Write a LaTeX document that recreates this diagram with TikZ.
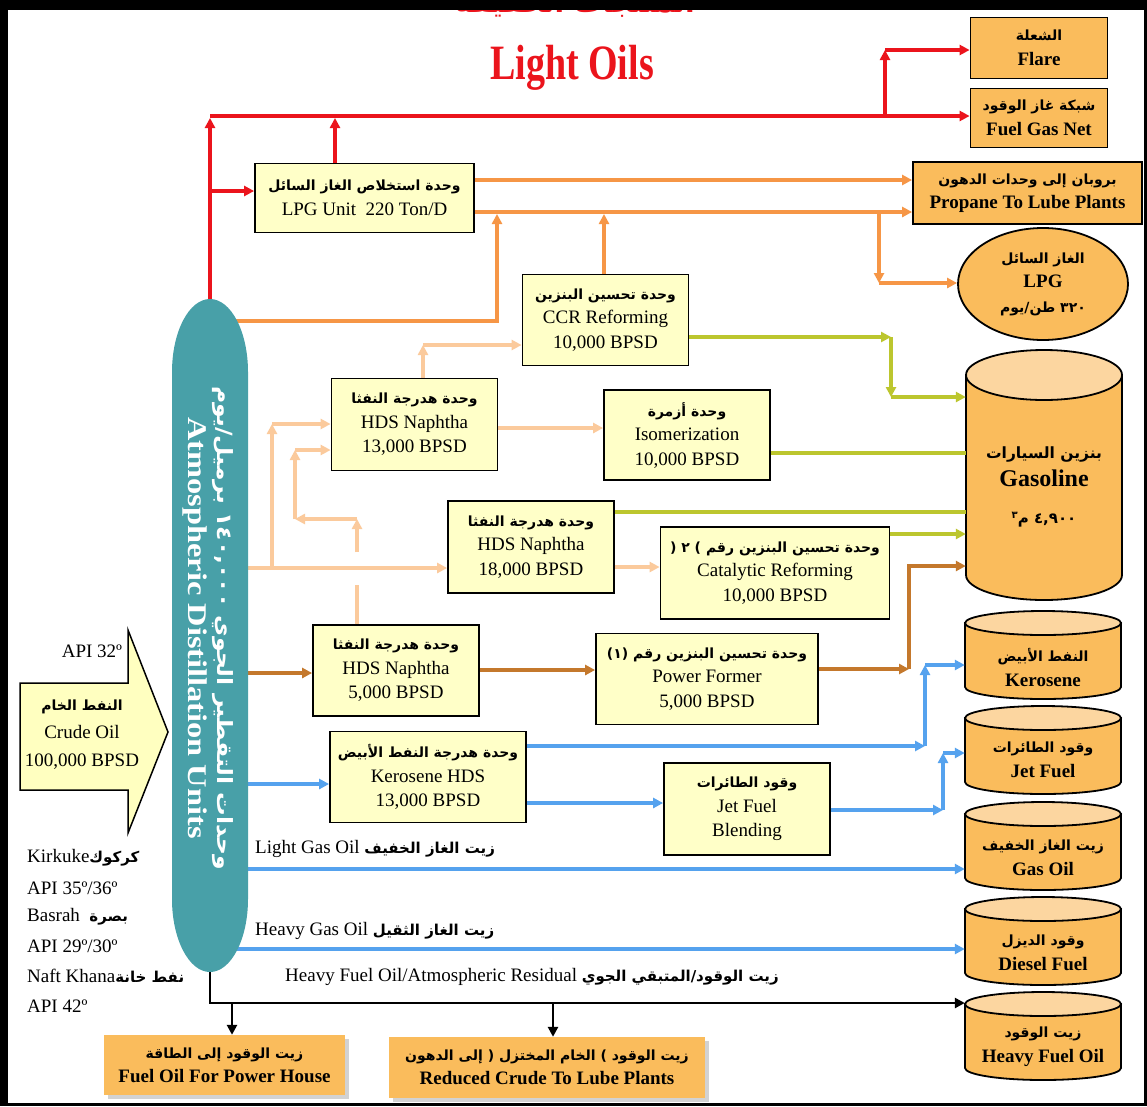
\documentclass[tikz,border=0pt]{standalone}
\usepackage{fontspec}
\setmainfont{Liberation Serif}
\newfontfamily\arfont[Script=Arabic]{DejaVu Sans}
\TeXXeTstate=1
\usetikzlibrary{arrows.meta,shapes.geometric,shadows}
\definecolor{boxy}{RGB}{255,255,200}
\definecolor{prodo}{RGB}{250,188,92}
\definecolor{tanktop}{RGB}{252,214,160}
\definecolor{redl}{RGB}{235,20,28}
\definecolor{orl}{RGB}{246,150,70}
\definecolor{peach}{RGB}{251,202,156}
\definecolor{grn}{RGB}{188,198,46}
\definecolor{brn}{RGB}{196,120,44}
\definecolor{blu}{RGB}{85,162,238}
\definecolor{tealc}{RGB}{72,160,168}
\definecolor{crudec}{RGB}{255,255,192}
\newcommand\ARs[2]{{\arfont\bfseries\fontsize{#1}{#1}\selectfont #2}}
\newcommand\tank[6]{%
  \path[draw=black,line width=1.8pt,fill=prodo] (#2-#5,#3+#6) -- (#2-#5,#4-#6)
     arc[start angle=180,end angle=360,x radius=#5pt,y radius=#6pt] -- (#2+#5,#3+#6) -- cycle;
  \path[draw=black,line width=1.8pt,fill=tanktop] (#2,#3+#6) ellipse[x radius=#5pt,y radius=#6pt];
  \node[minimum width=2*#5pt, minimum height=(#4-#3)*1pt, inner sep=0] (#1) at (#2,{(#3+#4)/2}) {};
}
\tikzset{
  >={Triangle[length=10pt,width=10pt]},
  box/.style={draw=black, line width=1.8pt, fill=boxy, align=center, inner sep=1pt,
     font=\fontsize{19}{24.5}\selectfont},
  prod/.style={draw=black, line width=1.8pt, fill=prodo, align=center, inner sep=1pt,
     font=\bfseries\fontsize{19}{24.5}\selectfont},
  prodnb/.style={fill=prodo, align=center, inner sep=1pt,
     drop shadow={shadow xshift=4pt,shadow yshift=-4pt,fill=black!35},
     font=\bfseries\fontsize{19}{24}\selectfont},
  ttext/.style={align=center, inner sep=0, font=\bfseries\fontsize{19}{25}\selectfont},
  lab/.style={inner sep=0, font=\fontsize{19}{24}\selectfont},
  rl/.style={draw=redl, line width=3.8pt},
  ol/.style={draw=orl, line width=3.2pt},
  pl/.style={draw=peach, line width=3.2pt},
  gl/.style={draw=grn, line width=3.2pt},
  bl/.style={draw=brn, line width=3.2pt},
  ul/.style={draw=blu, line width=3.2pt},
  kl/.style={draw=black, line width=2.6pt},
}
\begin{document}
\begin{tikzpicture}[x=1pt,y=-1pt]
\useasboundingbox (0,0) rectangle (1147,1106);
\fill[white] (0,0) rectangle (1147,1106);

% heading, partly hidden by the frame as in the reference
\node[text=redl, font=\arfont\bfseries\fontsize{28}{28}\selectfont] (head) at (575,4) {\beginR المنتجات الخفيفة\endR};
\node[text=redl, font=\bfseries\fontsize{38}{40}\selectfont] (title) at (572,68) {\scalebox{1}[1.3]{Light Oils}};

% process boxes
\node[box, minimum width=219pt, minimum height=69pt] (lpg) at (364.5,198) {\ARs{14}{\beginR وحدة استخلاص الغاز السائل\endR}\\LPG Unit~~220 Ton/D};
\node[box, minimum width=166pt, minimum height=91pt] (ccr) at (605.5,320) {\ARs{14}{\beginR وحدة تحسين البنزين\endR}\\CCR Reforming\\10,000 BPSD};
\node[box, minimum width=166pt, minimum height=92pt] (hds13) at (414.5,424.5) {\ARs{14}{\beginR وحدة هدرجة النفثا\endR}\\HDS Naphtha\\13,000 BPSD};
\node[box, minimum width=166pt, minimum height=90pt] (iso) at (687,435) {\ARs{14}{\beginR وحدة أزمرة\endR}\\Isomerization\\10,000 BPSD};
\node[box, minimum width=166pt, minimum height=92pt] (hds18) at (531,547) {\ARs{14}{\beginR وحدة هدرجة النفثا\endR}\\HDS Naphtha\\18,000 BPSD};
\node[box, minimum width=229pt, minimum height=92pt] (cat) at (775,573) {\ARs{14}{\beginR وحدة تحسين البنزين رقم \beginL( ٢ )\endL\endR}\\Catalytic Reforming\\10,000 BPSD};
\node[box, minimum width=166pt, minimum height=91pt] (hds5) at (396,670.5) {\ARs{14}{\beginR وحدة هدرجة النفثا\endR}\\HDS Naphtha\\5,000 BPSD};
\node[box, minimum width=222pt, minimum height=91pt] (pf) at (707,679) {\ARs{14}{\beginR وحدة تحسين البنزين رقم \beginL(١)\endL\endR}\\Power Former\\5,000 BPSD};
\node[box, minimum width=196pt, minimum height=91pt] (kero) at (428,777) {\ARs{14}{\beginR وحدة هدرجة النفط الأبيض\endR}\\Kerosene HDS\\13,000 BPSD};
\node[box, minimum width=166pt, minimum height=92pt] (jet) at (747,809) {\ARs{14}{\beginR وقود الطائرات\endR}\\Jet Fuel\\Blending};

% product boxes
\node[prod, minimum width=137pt, minimum height=61pt] (flare) at (1039,48) {\ARs{14}{\beginR الشعلة\endR}\\Flare};
\node[prod, minimum width=137pt, minimum height=59pt] (fgn) at (1039,118) {\ARs{14}{\beginR شبكة غاز الوقود\endR}\\Fuel Gas Net};
\node[prod, minimum width=229pt, minimum height=62pt] (prop) at (1027.5,193) {\ARs{14}{\beginR بروبان إلى وحدات الدهون\endR}\\Propane To Lube Plants};
\node[prod, ellipse, minimum width=170pt, minimum height=112pt, inner sep=0] (lpgt) at (1043,284) {\ARs{14}{\beginR الغاز السائل\endR}\\LPG\\\ARs{14}{\beginR\beginL ٣٢٠\endL{} طن/يوم\endR}};
\node[prodnb, minimum width=241pt, minimum height=60pt] (ph) at (224.5,1065) {\ARs{14}{\beginR زيت الوقود إلى الطاقة\endR}\\Fuel Oil For Power House};
\node[prodnb, minimum width=316pt, minimum height=61pt] (rc) at (547,1067.5) {\ARs{14}{\beginR زيت الوقود \beginL)\endL{} الخام المختزل \beginL(\endL{} إلى الدهون\endR}\\Reduced Crude To Lube Plants};

% tanks
\tank{gas}{1044}{350}{600}{78}{25}
\tank{kerot}{1043}{611}{699}{78}{12}
\tank{jett}{1043}{706}{794}{78}{12}
\tank{gasoil}{1043}{802}{890}{78}{12}
\tank{diesel}{1043}{897}{985}{78}{12}
\tank{hfo}{1043}{992}{1080}{78}{12}
\node[ttext] (gastxt) at (1044,487) {\ARs{15.5}{\beginR بنزين السيارات\endR}\\[3pt]{\fontsize{24}{26}\selectfont Gasoline}\\[12pt]\ARs{15}{\beginR\beginL ٤,٩٠٠\endL{} م\raisebox{5pt}{\fontsize{10}{10}\selectfont ٣}\endR}};
\node[ttext] (kerotxt) at (1043,667.5) {\ARs{14}{\beginR النفط الأبيض\endR}\\Kerosene};
\node[ttext] (jettxt) at (1043,760) {\ARs{14}{\beginR وقود الطائرات\endR}\\Jet Fuel};
\node[ttext] (gasoiltxt) at (1043,857.5) {\ARs{14}{\beginR زيت الغاز الخفيف\endR}\\Gas Oil};
\node[ttext] (dieseltxt) at (1043,952.5) {\ARs{14}{\beginR وقود الديزل\endR}\\Diesel Fuel};
\node[ttext] (hfotxt) at (1043,1047) {\ARs{14}{\beginR زيت الوقود\endR}\\Heavy Fuel Oil};

% ADU anchor node
\node[minimum width=76pt, minimum height=673pt, inner sep=0] (adu) at (210,635.5) {};

% crude arrow
\path[draw=black, line width=1.5pt, fill=crudec] (20,683) -- (128,683) -- (128,630) -- (168,732) -- (128,833) -- (128,790) -- (20,790) -- cycle;
\node[align=center, inner sep=0, font=\fontsize{19}{28}\selectfont] (crude) at (82,735) {\ARs{14}{\beginR النفط الخام\endR}\\Crude Oil\\100,000 BPSD};
\node[lab] (api) at (92,651) {API 32º};

% left list
\node[lab, anchor=west] (k1) at (27,858) {Kirkuke\ARs{15}{\beginR كركوك\endR}};
\node[lab, anchor=west] (k2) at (27,888) {API 35º/36º};
\node[lab, anchor=west] (k3) at (27,917) {Basrah~~\ARs{15}{\beginR بصرة\endR}};
\node[lab, anchor=west] (k4) at (27,946) {API 29º/30º};
\node[lab, anchor=west] (k5) at (27,976) {Naft Khana\ARs{15}{\beginR نفط خانة\endR}};
\node[lab, anchor=west] (k6) at (27,1006) {API 42º};

% stream labels
\node[lab, anchor=west] (lgo) at (255,849) {Light Gas Oil \ARs{15}{\beginR زيت الغاز الخفيف\endR}};
\node[lab, anchor=west] (hgo) at (255,931) {Heavy Gas Oil \ARs{15}{\beginR زيت الغاز الثقيل\endR}};
\node[lab, anchor=west] (hfl) at (285,977) {Heavy Fuel Oil/Atmospheric Residual \ARs{15}{\beginR زيت الوقود/المتبقي الجوي\endR}};

% red
\draw[rl,->] (adu.north) -- (adu.north |- 0,118);
\draw[rl,->] (adu.north |- 0,116) -- (fgn.west |- 0,116);
\draw[rl,->] (adu.north |- 0,191) -- (lpg.west |- 0,191);
\draw[rl,->] (lpg.north -| 335,0) -- (335,118);
\draw[rl,->] (885,116) -- (885,50);
\draw[rl,->] (885,50) -- (flare.west |- 0,50);

% orange
\draw[ol,->] (lpg.east |- 0,180) -- (prop.west |- 0,180);
\draw[ol,->] (lpg.east |- 0,212) -- (prop.west |- 0,212);
\draw[ol,->] (879,212) -- (879,283);
\draw[ol,->] (879,283) -- (lpgt.west |- 0,283);
\draw[ol,->] (adu.center |- 0,321) -- (497,321) -- (497,214);
\draw[ol,->] (ccr.north -| 604,0) -- (604,214);

% peach
\draw[pl,->] (adu.center |- 0,568) -- (hds18.west |- 0,568);
\draw[pl,->] (272,568) -- (272,424);
\draw[pl,->] (272,424) -- (hds13.west |- 0,424);
\draw[pl] (hds5.north -| 357,0) -- (357,585);
\draw[pl,->] (357,552) -- (357,519);
\draw[pl,->] (357,519) -- (295,519);
\draw[pl,->] (295,519) -- (295,450);
\draw[pl,->] (295,450) -- (hds13.west |- 0,450);
\draw[pl,->] (hds13.north -| 423,0) -- (423,345);
\draw[pl,->] (423,345) -- (ccr.west |- 0,345);
\draw[pl,->] (hds13.east |- 0,428) -- (iso.west |- 0,428);
\draw[pl,->] (hds18.east |- 0,567) -- (cat.west |- 0,567);

% green
\draw[gl,->] (ccr.east |- 0,337) -- (891,337);
\draw[gl,->] (891,337) -- (891,397);
\draw[gl,->] (891,397) -- (gas.west |- 0,397);
\draw[gl] (iso.east |- 0,453) -- (gas.west |- 0,453);
\draw[gl] (hds18.east |- 0,512) -- (gas.west |- 0,512);
\draw[gl,->] (cat.east |- 0,534) -- (gas.west |- 0,534);

% brown
\draw[bl,->] (adu.center |- 0,673) -- (hds5.west |- 0,673);
\draw[bl,->] (hds5.east |- 0,670) -- (pf.west |- 0,670);
\draw[bl,->] (pf.east |- 0,669) -- (909,669);
\draw[bl,->] (909,669) -- (909,566) -- (gas.west |- 0,566);

% blue
\draw[ul,->] (adu.center |- 0,784) -- (kero.west |- 0,784);
\draw[ul,->] (kero.east |- 0,746) -- (925,746);
\draw[ul,->] (925,746) -- (925,665);
\draw[ul,->] (925,665) -- (kerot.west |- 0,665);
\draw[ul,->] (kero.east |- 0,803) -- (jet.west |- 0,803);
\draw[ul,->] (jet.east |- 0,810) -- (943,810);
\draw[ul,->] (943,810) -- (943,753);
\draw[ul,->] (943,753) -- (jett.west |- 0,753);
\draw[ul,->] (adu.center |- 0,869) -- (gasoil.west |- 0,869);
\draw[ul,->] (adu.center |- 0,949) -- (diesel.west |- 0,949);

% black
\draw[kl,->] (adu.south) -- (adu.south |- 0,1003) -- (hfo.west |- 0,1003);
\draw[kl,->] (232,1003) -- (ph.north -| 232,0);
\draw[kl,->] (553,1003) -- (rc.north -| 553,0);

% ADU body
\fill[tealc] (172,372) arc[start angle=180,end angle=0,x radius=38pt,y radius=73pt]
   -- (248,899) arc[start angle=0,end angle=-180,x radius=38pt,y radius=73pt] -- cycle;
\node[rotate=-90, align=center, text=white, inner sep=0, font=\fontsize{27}{29}\selectfont] (adutxt) at (208,628)
  {\scalebox{1.12}[1]{\ARs{21}{\beginR وحدات التقطير الجوي \beginL ١٤٠,٠٠٠\endL{} برميل/يوم\endR}}\\\scalebox{1.2}[1]{\textbf{Atmospheric Distillation Units}}};

% frame
\fill[black] (0,0) rectangle (1147,10);
\fill[black] (0,0) rectangle (8,1106);
\draw[line width=3pt] (6,8) rectangle (1145,1104);
\end{tikzpicture}
\end{document}
